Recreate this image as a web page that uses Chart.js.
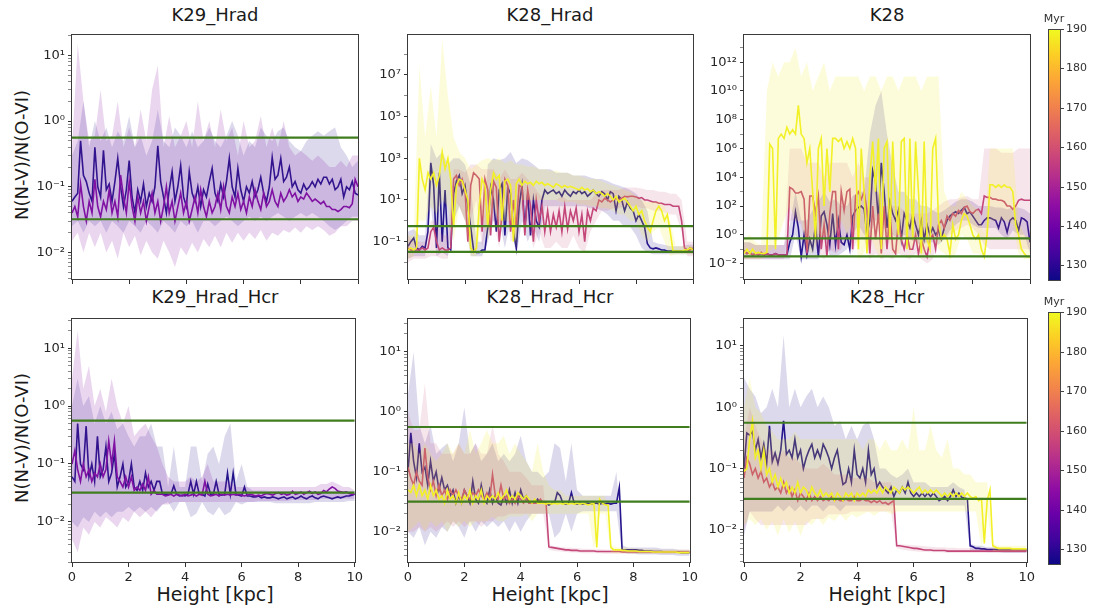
<!DOCTYPE html>
<html>
<head>
<meta charset="utf-8">
<script src="https://cdn.jsdelivr.net/npm/chart.js@4.4.0/dist/chart.umd.min.js"></script>
<style>
  body { margin: 0; background: #fff; width: 1094px; height: 614px; position: relative; overflow: hidden;
         font-family: "DejaVu Sans", sans-serif; color: #1a1a1a; }
  canvas { position: absolute; }
  .title { position: absolute; font-size: 18px; line-height: 22px; transform: translateX(-50%); white-space: nowrap; }
  .xlabel { position: absolute; font-size: 19px; line-height: 23px; transform: translateX(-50%); white-space: nowrap; }
  .ylabel { position: absolute; font-size: 18px; white-space: nowrap; transform: translate(-50%, -50%) rotate(-90deg); }
  .cbar { position: absolute; left: 1048px; width: 13px; border: 1px solid #444; box-sizing: border-box;
          background: linear-gradient(to top, #0d0887 0%, #41049d 10%, #6a00a8 20%, #8f0da4 30%, #b12a90 40%,
                      #cc4778 50%, #e16462 60%, #f2844b 70%, #fca636 80%, #fcce25 90%, #f0f921 100%); }
  .ctick { position: absolute; left: 1061px; width: 3px; height: 1px; background: #444; }
  .clabel { position: absolute; left: 1066px; font-size: 11px; line-height: 12px; color: #333; }
  .cunit { position: absolute; font-size: 11px; color: #333; transform: translateX(-50%); }
</style>
</head>
<body>

<div class="title" style="left:215px;top:4px">K29_Hrad</div>
<div class="title" style="left:550px;top:4px">K28_Hrad</div>
<div class="title" style="left:887px;top:4px">K28</div>
<div class="title" style="left:215px;top:286px">K29_Hrad_Hcr</div>
<div class="title" style="left:550px;top:286px">K28_Hrad_Hcr</div>
<div class="title" style="left:887px;top:286px">K28_Hcr</div>

<div class="ylabel" style="left:21px;top:155px">N(N-V)/N(O-VI)</div>
<div class="ylabel" style="left:21px;top:438px">N(N-V)/N(O-VI)</div>

<div class="xlabel" style="left:215px;top:583px">Height [kpc]</div>
<div class="xlabel" style="left:550px;top:583px">Height [kpc]</div>
<div class="xlabel" style="left:887px;top:583px">Height [kpc]</div>

<canvas id="c1"></canvas>
<canvas id="c2"></canvas>
<canvas id="c3"></canvas>
<canvas id="c4"></canvas>
<canvas id="c5"></canvas>
<canvas id="c6"></canvas>

<script>
// sampling heights [kpc]: fine grid for median lines, coarse grid for the spread bands
const heights = [
  0,0.1,0.2,0.3,0.4,0.5,0.6,0.7,0.8,0.9,
  1,1.1,1.2,1.3,1.4,1.5,1.6,1.7,1.8,1.9,
  2,2.1,2.2,2.3,2.4,2.5,2.6,2.7,2.8,2.9,
  3,3.1,3.2,3.3,3.4,3.5,3.6,3.7,3.8,3.9,
  4,4.1,4.2,4.3,4.4,4.5,4.6,4.7,4.8,4.9,
  5,5.1,5.2,5.3,5.4,5.5,5.6,5.7,5.8,5.9,
  6,6.1,6.2,6.3,6.4,6.5,6.6,6.7,6.8,6.9,
  7,7.1,7.2,7.3,7.4,7.5,7.6,7.7,7.8,7.9,
  8,8.1,8.2,8.3,8.4,8.5,8.6,8.7,8.8,8.9,
  9,9.1,9.2,9.3,9.4,9.5,9.6,9.7,9.8,9.9,
  10];
const heightsCoarse = [
  0,0.2,0.4,0.6,0.8,1,1.2,1.4,1.6,1.8,
  2,2.2,2.4,2.6,2.8,3,3.2,3.4,3.6,3.8,
  4,4.2,4.4,4.6,4.8,5,5.2,5.4,5.6,5.8,
  6,6.2,6.4,6.6,6.8,7,7.2,7.4,7.6,7.8,
  8,8.2,8.4,8.6,8.8,9,9.2,9.4,9.6,9.8,
  10];

// observed ratio limits (green lines)
const upperRatio = 0.56;
const lowerRatio = 0.032;

// snapshot times [Myr] and colour bar
const timeBlue = 130, timePurple = 145, timePink = 160, timeYellow = 190;
const cbarTicks = [130, 140, 150, 160, 170, 180, 190];
const cbarMin = 126, cbarMax = 190;

// ---- K29_Hrad ----
const k29HradBlue = [
  0.06,0.07,0.08,0.5,0.15,0.12,0.08,0.06,0.4,0.1,
  0.07,0.36,0.09,0.11,0.06,0.12,0.27,0.1,0.05,0.09,
  0.25,0.07,0.04,0.09,0.06,0.11,0.05,0.08,0.06,0.1,
  0.42,0.12,0.07,0.04,0.09,0.17,0.06,0.1,0.21,0.07,
  0.05,0.17,0.08,0.06,0.1,0.05,0.09,0.07,0.12,0.19,
  0.08,0.06,0.11,0.07,0.12,0.27,0.1,0.07,0.19,0.09,
  0.06,0.1,0.08,0.12,0.07,0.09,0.14,0.08,0.06,0.1,
  0.28,0.13,0.15,0.27,0.12,0.14,0.2,0.1,0.12,0.09,
  0.08,0.11,0.09,0.1,0.12,0.1,0.13,0.11,0.14,0.14,
  0.11,0.13,0.09,0.1,0.13,0.07,0.1,0.09,0.12,0.08,
  0.075];
const k29HradPurple = [
  0.04,0.05,0.035,0.11,0.05,0.03,0.06,0.04,0.13,0.05,
  0.035,0.06,0.045,0.09,0.04,0.06,0.035,0.15,0.07,0.04,
  0.12,0.05,0.03,0.07,0.04,0.06,0.03,0.05,0.08,0.04,
  0.06,0.03,0.05,0.1,0.04,0.06,0.03,0.05,0.08,0.04,
  0.06,0.03,0.045,0.07,0.04,0.09,0.05,0.035,0.06,0.04,
  0.05,0.08,0.045,0.1,0.05,0.04,0.07,0.05,0.08,0.045,
  0.06,0.04,0.07,0.05,0.09,0.06,0.045,0.08,0.05,0.06,
  0.09,0.06,0.05,0.08,0.06,0.07,0.09,0.07,0.08,0.06,
  0.07,0.065,0.08,0.07,0.06,0.065,0.06,0.055,0.06,0.05,
  0.05,0.045,0.045,0.042,0.045,0.05,0.05,0.048,0.055,0.13,
  0.1];
const k29HradBlueHi = [0.3,0.5,2,0.4,1,0.5,0.8,0.4,0.7,0.5, 1.2,0.4,0.6,0.3,0.5,1.5,0.5,0.4,0.8,0.6,
  0.4,0.7,0.4,0.5,0.8,0.5,0.4,0.6,1,0.6, 0.3,0.5,0.4,0.8,0.6,0.5,0.7,0.8,0.5,0.4,
  0.35,0.5,0.6,0.7,0.6,0.7,0.8,0.4,0.3,0.2, 0.25];
const k29HradBlueLo = [0.025,0.03,0.02,0.03,0.025,0.03,0.02,0.03,0.025,0.02, 0.03,0.025,0.02,0.03,0.025,0.02,0.03,0.025,0.02,0.03,
  0.025,0.03,0.02,0.03,0.03,0.025,0.03,0.035,0.03,0.025, 0.03,0.035,0.03,0.035,0.03,0.035,0.04,0.035,0.03,0.035,
  0.04,0.035,0.04,0.035,0.03,0.025,0.022,0.025,0.03,0.035, 0.035];
const k29HradPurpleHi = [0.4,15,2,0.5,0.6,3,0.5,0.6,2,0.4, 0.8,0.4,1.5,0.5,3,7,0.4,1.2,0.4,0.6,
  1,0.4,2,0.5,1,0.4,1.5,0.5,0.8,0.3, 1,0.4,0.5,1.2,0.4,0.8,0.4,1,0.4,0.3,
  0.35,0.3,0.25,0.3,0.25,0.2,0.2,0.25,0.2,0.3, 0.3];
const k29HradPurpleLo = [0.015,0.02,0.01,0.02,0.012,0.02,0.01,0.015,0.008,0.02, 0.012,0.018,0.009,0.015,0.01,0.008,0.015,0.01,0.006,0.012,
  0.009,0.014,0.01,0.016,0.012,0.018,0.012,0.02,0.014,0.02, 0.015,0.02,0.016,0.022,0.015,0.02,0.018,0.022,0.02,0.024,
  0.02,0.025,0.022,0.025,0.022,0.018,0.02,0.025,0.025,0.03, 0.03];

// ---- K28_Hrad ----
const k28HradBlue = [
  0.06,0.1,0.15,0.05,0.04,0.06,0.05,0.3,600,50,
  0.05,200,0.1,30,0.05,0.04,20,80,150,20,
  50,5,0.5,0.04,0.03,0.03,0.04,0.04,0.5,40,
  10,0.3,30,60,0.2,40,20,0.3,0.05,5,
  50,0.5,20,0.2,10,1,0.5,10,30,20,
  25,30,20,25,15,30,20,15,25,20,
  30,20,25,15,20,30,20,15,25,20,
  10,25,20,3,15,10,3,8,4,3,
  1,2,1,0.5,0.08,0.05,0.045,0.05,0.045,0.04,
  0.04,0.035,0.035,0.035,0.035,0.035,0.035,0.035,0.035,0.05,
  0.04];
const k28HradPink = [
  0.05,0.04,0.04,0.04,0.04,0.05,0.04,0.05,0.3,0.5,
  0.1,0.04,0.05,0.04,0.04,0.05,100,150,50,100,
  30,0.1,50,200,150,100,0.3,100,30,0.2,
  80,40,0.1,2,100,50,0.3,10,0.5,50,
  40,0.2,30,5,0.1,10,1,5,0.3,3,
  0.3,2,0.5,3,0.3,5,0.4,3,1,4,
  0.3,2,0.1,3,1,4,3,10,8,12,
  10,8,10,12,10,12,15,14,15,15,
  14,12,13,10,10,9,8,8,7,7,
  6,6,6,5,5,5,1,0.05,0.04,0.04,
  0.05];
const k28HradYellow = [
  0.04,0.05,0.04,0.05,1000,100,30,200,100,200,
  50,150,2000,300,1000,100,0.5,50,100,80,
  30,10,0.05,0.03,0.05,5,100,50,0.5,30,
  200,100,150,1,80,100,50,0.1,60,100,
  50,80,60,70,50,80,60,70,50,60,
  50,40,60,50,40,50,40,45,40,35,
  30,40,30,35,25,30,20,25,20,15,
  20,15,10,15,8,10,12,8,5,3,
  5,2,3,1,0.5,0.3,1,3,5,3,
  1,2,0.3,0.035,0.035,0.035,0.035,0.04,0.04,0.05,
  0.04];
const k28HradBlueHi = [0.3,0.4,0.2,0.2,5000,1000,2000,500,1000,1000, 500,50,0.1,0.1,500,1000,800,1000,2000,600,
  1000,800,500,300,300,300,200,200,200,150, 150,150,120,100,100,80,60,50,40,30,
  20,10,3,0.1,0.08,0.07,0.06,0.06,0.06,0.07, 0.07];
const k28HradBlueLo = [0.015,0.02,0.02,0.02,5,0.02,0.03,0.02,1,5, 1,0.02,0.02,0.02,0.1,1,1,0.05,1,0.02,
  1,0.1,0.5,0.1,5,5,5,5,5,5, 5,5,4,4,3,2,1,1,0.5,0.5,
  0.2,0.05,0.03,0.025,0.025,0.025,0.025,0.025,0.025,0.025, 0.025];
const k28HradPinkHi = [0.2,0.1,0.1,0.1,1,1,0.2,0.2,300,300, 200,500,500,300,300,300,100,300,100,100,
  200,100,50,20,10,10,10,15,10,10, 10,10,10,20,30,30,30,30,40,40,
  40,35,30,30,25,25,20,20,10,0.1, 0.1];
const k28HradPinkLo = [0.01,0.015,0.015,0.015,0.02,0.02,0.015,0.015,10,5, 1,1,10,0.05,1,1,0.05,10,0.1,0.2,
  5,1,0.05,0.3,0.05,0.05,0.1,0.05,0.05,0.2, 0.05,0.03,0.3,1,3,3,4,4,5,5,
  5,4,4,3,3,2.5,2,2,0.3,0.02, 0.02];
const k28HradYellowHi = [0.2,0.2,3e7,1e4,3e6,1e4,5e8,1e6,1e4,2000, 1000,300,500,800,1000,800,1000,600,800,500,
  500,400,400,300,300,250,250,200,200,150, 150,120,100,100,80,60,50,40,30,25,
  15,10,8,8,8,5,1,0.06,0.06,0.06, 0.06];
const k28HradYellowLo = [0.015,0.02,1,1,5,2,10,5,0.1,5, 1,0.02,0.02,2,0.1,5,0.5,1,1,0.05,
  10,10,10,10,10,10,10,8,8,8, 6,6,5,5,4,4,3,2,2,1,
  1,0.2,0.1,0.3,0.5,0.1,0.02,0.025,0.025,0.025, 0.025];

// ---- K28 ----
const k28Blue = [
  0.08,0.05,0.06,0.04,0.05,0.04,0.05,0.04,0.05,0.04,
  0.04,0.05,0.04,0.04,0.04,0.04,0.3,1,40,3,
  0.03,1,0.04,0.5,0.1,5,0.03,20,40,5,
  0.2,30,0.2,10,0.3,0.2,1,0.1,20,50,
  80,100,60,1,10,3e4,5000,10,1e5,1000,
  3,200,30,10,50,0.5,30,10,3,30,
  5,1,10,0.5,5,1,3,1,2,0.5,
  3,10,20,30,40,30,50,80,30,40,
  20,10,5,5,10,15,15,12,10,3,
  15,8,1.5,10,15,10,2,15,12,8,
  0.3];
const k28Pink = [
  0.08,0.05,0.06,0.04,0.05,0.04,0.06,0.04,0.05,0.04,
  0.04,0.05,0.04,0.04,0.04,0.04,2000,1500,800,800,
  1000,300,0.05,500,500,30,500,0.1,5,0.03,
  30,1000,1000,0.1,1000,50,1000,1500,0.1,500,
  1000,300,1000,50,0.05,100,0.5,30,0.05,100,
  0.1,50,0.1,0.05,10,0.5,0.1,1,0.1,0.1,
  1,0.05,0.5,0.1,0.03,0.5,1,0.1,5,10,
  3,20,10,30,20,50,30,80,100,40,
  30,50,60,30,500,400,400,300,300,250,
  250,200,100,100,60,100,250,300,250,250,
  250];
const k28Yellow = [
  0.05,0.1,0.05,0.1,0.05,0.06,0.05,0.05,0.06,2e6,
  1e6,0.1,5e6,1e7,5e6,3e7,1e7,2e7,1e7,1e9,
  1e7,5e6,1e5,1e6,1000,0.5,1e6,5e6,100,1e6,
  1000,5e6,5e6,3e6,5e6,1e6,3e6,1e6,5e6,1e6,
  0.1,1e6,1000,0.05,1e4,3e6,1000,5e6,0.1,1e6,
  3e6,0.5,3e6,100,1,3e6,5e6,0.1,5e6,0.5,
  3e6,1000,0.05,3e6,0.5,0.1,1e6,5e6,10,0.5,
  1,0.5,0.05,5,0.5,1,10,30,20,5,
  1,0.5,1,0.1,0.03,1,3000,3000,2000,3000,
  2000,3000,2000,2000,1000,5,1,0.1,0.05,0.03,
  0.03];
const k28BlueHi = [0.3,0.3,0.2,0.2,0.2,0.2,0.2,0.2,5,1000, 10,10,50,200,1000,200,300,100,100,500,
  1000,1000,1e7,1e9,1e10,1e7,5e4,1000,1000,300, 300,100,100,50,30,50,100,200,300,300,
  200,100,100,100,80,80,60,80,80,60, 30];
const k28BlueLo = [0.02,0.02,0.02,0.02,0.02,0.02,0.02,0.02,0.02,1, 0.02,0.02,0.02,0.02,1,0.03,0.03,0.05,0.1,1,
  5,1,1,10,10,1,1,0.5,1,0.5, 0.3,0.2,0.3,0.3,0.2,0.5,2,5,10,10,
  5,3,3,3,3,1,0.5,2,1,1, 0.05];
const k28PinkHi = [0.3,0.3,0.2,0.2,0.2,0.2,0.2,0.2,1e6,1e6, 1e6,1e5,1e5,1e5,1e4,1e5,1e5,1e5,1e5,1e4,
  1e5,1e4,1e4,1000,1000,100,100,100,50,30, 30,30,30,50,100,200,300,300,400,500,
  300,300,1e6,1e6,1e6,5e5,5e5,5e5,1e6,1e6, 1e6];
const k28PinkLo = [0.02,0.02,0.02,0.02,0.02,0.02,0.02,0.02,10,10, 5,0.02,1,0.05,0.02,0.1,0.05,0.1,1,0.05,
  1,0.5,0.02,0.05,0.02,0.03,0.02,0.05,0.03,0.02, 0.05,0.02,0.01,0.02,0.5,0.5,1,2,3,5,
  3,1,0.2,0.1,0.1,0.1,0.1,0.1,0.1,0.1, 0.1];
const k28YellowHi = [0.5,1,0.3,0.2,1e10,1e12,1e11,1e12,1e12,1e13, 1e11,1e12,1e10,1e11,1e12,1e10,1e11,1e11,1e11,1e11,
  1e11,1e10,1e11,1e11,1e10,1e11,1e11,1e10,1e11,1e11, 1e11,1e10,1e11,1e11,1e11,1000,100,100,1000,300,
  100,50,1,1e6,1e6,1e6,1e6,1e6,10,1, 0.5];
const k28YellowLo = [0.02,0.02,0.02,0.02,0.05,0.1,0.5,10,100,10, 10,0.1,0.05,0.5,1,0.5,1,10,1,10,
  0.02,0.05,1,0.1,0.02,1,0.05,0.05,1,0.05, 0.5,0.02,0.1,1,0.1,0.05,0.02,0.05,1,0.5,
  0.05,0.05,0.02,10,10,10,10,5,0.05,0.02, 0.02];

// ---- K29_Hrad_Hcr ----
const k29HcrBlue = [
  0.06,0.05,0.5,0.1,0.08,0.45,0.06,0.1,0.05,0.3,
  0.06,0.08,0.2,0.05,0.07,0.15,0.04,0.06,0.1,0.04,
  0.05,0.1,0.04,0.035,0.05,0.035,0.07,0.04,0.05,0.035,
  0.05,0.05,0.03,0.03,0.03,0.03,0.042,0.03,0.028,0.029,
  0.028,0.03,0.05,0.03,0.05,0.03,0.03,0.028,0.045,0.03,
  0.03,0.05,0.03,0.029,0.03,0.07,0.03,0.07,0.03,0.029,
  0.028,0.04,0.028,0.028,0.027,0.027,0.028,0.026,0.027,0.026,
  0.026,0.027,0.026,0.025,0.026,0.027,0.025,0.026,0.027,0.025,
  0.026,0.028,0.026,0.025,0.027,0.028,0.026,0.025,0.027,0.028,
  0.027,0.026,0.025,0.026,0.027,0.026,0.027,0.028,0.028,0.029,
  0.03];
const k29HcrPurple = [
  0.1,0.17,0.08,0.05,0.1,0.06,0.08,0.05,0.07,0.06,
  0.1,0.06,0.08,0.25,0.1,0.25,0.06,0.05,0.04,0.06,
  0.04,0.06,0.035,0.04,0.035,0.045,0.035,0.06,0.03,0.035,
  0.03,0.03,0.03,0.028,0.029,0.03,0.028,0.03,0.029,0.028,
  0.03,0.028,0.029,0.03,0.028,0.03,0.029,0.05,0.03,0.028,
  0.029,0.03,0.028,0.03,0.029,0.03,0.029,0.03,0.029,0.03,
  0.029,0.028,0.029,0.03,0.029,0.028,0.029,0.028,0.03,0.031,
  0.03,0.029,0.031,0.032,0.03,0.031,0.029,0.03,0.034,0.03,
  0.031,0.033,0.03,0.032,0.034,0.031,0.033,0.03,0.031,0.035,
  0.033,0.037,0.04,0.038,0.034,0.033,0.032,0.033,0.031,0.03,
  0.03];
const k29HcrBlueHi = [1,3,1,1.5,0.5,1,0.5,0.8,0.4,0.5, 0.3,0.2,0.3,0.3,0.5,0.2,0.2,0.04,0.2,0.04,
  0.04,0.2,0.2,0.05,0.15,0.2,0.1,0.3,0.5,0.05, 0.1,0.04,0.035,0.035,0.035,0.034,0.034,0.034,0.034,0.034,
  0.034,0.034,0.034,0.034,0.034,0.034,0.034,0.034,0.034,0.034, 0.034];
const k29HcrBlueLo = [0.01,0.008,0.012,0.01,0.015,0.012,0.015,0.012,0.015,0.015, 0.018,0.015,0.018,0.015,0.018,0.015,0.02,0.022,0.015,0.022,
  0.022,0.012,0.014,0.022,0.015,0.013,0.018,0.013,0.015,0.022, 0.02,0.022,0.022,0.022,0.022,0.022,0.021,0.021,0.021,0.021,
  0.021,0.021,0.021,0.022,0.022,0.022,0.022,0.022,0.022,0.023, 0.023];
const k29HcrPurpleHi = [3,20,2,5,1,2,0.8,3,1,0.5, 1,0.3,0.4,0.5,0.3,0.2,0.1,0.06,0.05,0.05,
  0.05,0.06,0.05,0.06,0.1,0.05,0.05,0.05,0.05,0.04, 0.04,0.04,0.04,0.04,0.04,0.04,0.04,0.04,0.04,0.04,
  0.04,0.04,0.04,0.04,0.045,0.045,0.05,0.045,0.04,0.04, 0.035];
const k29HcrPurpleLo = [0.005,0.003,0.008,0.006,0.01,0.008,0.012,0.01,0.008,0.012, 0.01,0.015,0.012,0.015,0.012,0.016,0.02,0.02,0.022,0.022,
  0.022,0.022,0.022,0.022,0.022,0.022,0.022,0.022,0.022,0.022, 0.022,0.022,0.022,0.023,0.023,0.023,0.023,0.023,0.023,0.024,
  0.024,0.024,0.024,0.024,0.025,0.025,0.025,0.025,0.025,0.025, 0.025];

// ---- K28_Hrad_Hcr ----
const k28HradHcrBlue = [
  0.1,0.45,0.15,0.08,0.3,0.1,0.12,0.06,0.15,0.07,
  0.1,0.05,0.08,0.05,0.06,0.04,0.05,0.03,0.04,0.03,
  0.05,0.04,0.03,0.07,0.035,0.03,0.06,0.035,0.03,0.05,
  0.03,0.04,0.03,0.028,0.04,0.03,0.05,0.03,0.045,0.03,
  0.05,0.035,0.04,0.03,0.03,0.03,0.035,0.03,0.03,0.03,
  0.028,0.03,0.03,0.045,0.04,0.03,0.029,0.03,0.045,0.03,
  0.029,0.03,0.029,0.03,0.03,0.029,0.03,0.03,0.029,0.03,
  0.029,0.03,0.029,0.03,0.03,0.055,0.005,0.005,0.005,0.005,
  0.005,0.005,0.0049,0.0049,0.0048,0.0048,0.0048,0.0047,0.0047,0.0047,
  0.0047,0.0046,0.0046,0.0046,0.0046,0.0046,0.0046,0.0045,0.0045,0.0045,
  0.0045];
const k28HradHcrPink = [
  0.12,0.08,0.06,0.1,0.07,0.06,0.25,0.08,0.05,0.07,
  0.04,0.06,0.04,0.05,0.035,0.05,0.04,0.05,0.04,0.035,
  0.05,0.04,0.035,0.045,0.04,0.05,0.04,0.035,0.045,0.035,
  0.09,0.04,0.035,0.06,0.035,0.04,0.03,0.035,0.03,0.04,
  0.035,0.03,0.035,0.03,0.03,0.03,0.03,0.035,0.03,0.03,
  0.0056,0.0055,0.0054,0.0053,0.0052,0.0051,0.005,0.005,0.0049,0.0049,
  0.0049,0.0048,0.0048,0.0048,0.0048,0.0048,0.0048,0.0047,0.0047,0.0047,
  0.0047,0.0047,0.0047,0.0047,0.0047,0.0047,0.0046,0.0046,0.0046,0.0046,
  0.0046,0.0046,0.0046,0.0046,0.0046,0.0046,0.0046,0.0046,0.0046,0.0046,
  0.0046,0.0046,0.0046,0.0046,0.0046,0.0046,0.0046,0.0046,0.0046,0.0046,
  0.0046];
const k28HradHcrYellow = [
  0.05,0.045,0.06,0.04,0.06,0.04,0.05,0.035,0.06,0.04,
  0.05,0.035,0.04,0.03,0.05,0.035,0.04,0.03,0.045,0.03,
  0.04,0.035,0.05,0.03,0.04,0.035,0.05,0.03,0.04,0.035,
  0.04,0.035,0.045,0.035,0.04,0.05,0.035,0.04,0.035,0.045,
  0.04,0.035,0.04,0.035,0.03,0.035,0.03,0.03,0.03,0.029,
  0.03,0.029,0.03,0.029,0.03,0.029,0.03,0.029,0.03,0.029,
  0.03,0.029,0.03,0.029,0.028,0.029,0.03,0.0055,0.035,0.03,
  0.028,0.028,0.0055,0.005,0.005,0.005,0.0049,0.0049,0.0048,0.0048,
  0.0048,0.0048,0.0047,0.0047,0.0047,0.0047,0.0047,0.0046,0.0046,0.0046,
  0.0046,0.0046,0.0046,0.0046,0.0046,0.0046,0.0045,0.0045,0.0045,0.0045,
  0.0045];
const k28HradHcrBlueHi = [2,10,0.6,0.3,0.6,0.2,0.25,0.3,0.15,0.3, 1.2,0.2,0.3,0.15,0.2,0.3,0.15,0.2,0.15,0.2,
  0.4,0.15,0.1,0.1,0.08,0.1,0.3,0.25,0.07,0.3, 0.05,0.04,0.04,0.04,0.04,0.04,0.04,0.1,0.006,0.0055,
  0.0055,0.0055,0.0055,0.0055,0.0055,0.0052,0.0052,0.0052,0.005,0.005, 0.005];
const k28HradHcrBlueLo = [0.01,0.008,0.012,0.006,0.01,0.008,0.012,0.01,0.015,0.012, 0.008,0.015,0.01,0.015,0.012,0.015,0.012,0.015,0.01,0.015,
  0.01,0.015,0.02,0.02,0.02,0.02,0.008,0.01,0.02,0.01, 0.02,0.022,0.022,0.022,0.022,0.022,0.022,0.022,0.0045,0.0043,
  0.0043,0.0042,0.0042,0.0042,0.0042,0.0041,0.0041,0.0041,0.004,0.004, 0.004];
const k28HradHcrPinkHi = [1,0.5,0.5,3,0.3,0.3,0.2,0.2,0.2,0.3, 0.2,0.2,0.3,0.2,0.2,0.6,0.2,0.15,0.1,0.1,
  0.1,0.08,0.06,0.06,0.06,0.006,0.0058,0.0056,0.0055,0.0054, 0.0053,0.0052,0.0052,0.0051,0.0051,0.005,0.005,0.005,0.005,0.005,
  0.005,0.005,0.005,0.005,0.005,0.005,0.005,0.005,0.005,0.005, 0.005];
const k28HradHcrPinkLo = [0.01,0.01,0.012,0.01,0.012,0.01,0.012,0.015,0.012,0.015, 0.012,0.015,0.015,0.012,0.015,0.015,0.018,0.018,0.02,0.02,
  0.02,0.02,0.02,0.02,0.02,0.005,0.0048,0.0047,0.0046,0.0045, 0.0045,0.0044,0.0044,0.0044,0.0044,0.0043,0.0043,0.0043,0.0043,0.0043,
  0.0043,0.0043,0.0043,0.0043,0.0043,0.0043,0.0043,0.0043,0.0043,0.0043, 0.0043];
const k28HradHcrYellowHi = [0.3,0.3,0.2,0.3,0.2,0.15,0.2,0.3,0.2,0.3, 0.2,0.5,0.2,0.3,0.5,0.3,0.3,0.4,0.2,0.3,
  0.2,0.15,0.1,0.3,0.1,0.06,0.05,0.05,0.04,0.04, 0.04,0.04,0.04,0.04,0.04,0.04,0.006,0.0055,0.0055,0.0054,
  0.0053,0.0052,0.0052,0.0051,0.0051,0.005,0.005,0.005,0.005,0.005, 0.005];
const k28HradHcrYellowLo = [0.01,0.012,0.015,0.01,0.015,0.012,0.015,0.01,0.015,0.012, 0.015,0.012,0.015,0.015,0.015,0.018,0.015,0.015,0.018,0.018,
  0.018,0.02,0.015,0.02,0.02,0.02,0.02,0.02,0.02,0.02, 0.02,0.02,0.02,0.005,0.02,0.02,0.0045,0.0044,0.0044,0.0044,
  0.0043,0.0043,0.0043,0.0043,0.0043,0.0043,0.0043,0.0043,0.0043,0.0043, 0.0043];

// ---- K28_Hcr ----
const k28HcrBlue = [
  0.1,0.38,0.35,0.4,0.2,0.3,0.15,0.25,0.12,0.5,
  0.13,0.18,0.12,0.2,0.6,0.17,0.2,0.15,0.3,0.15,
  0.2,0.1,0.15,0.2,0.25,0.15,0.2,0.15,0.25,0.2,
  0.15,0.1,0.15,0.2,0.1,0.055,0.06,0.1,0.06,0.2,
  0.08,0.07,0.1,0.06,0.2,0.08,0.1,0.05,0.06,0.05,
  0.045,0.04,0.05,0.035,0.045,0.04,0.05,0.04,0.06,0.04,
  0.035,0.04,0.035,0.04,0.035,0.04,0.035,0.04,0.035,0.03,
  0.032,0.035,0.03,0.035,0.045,0.035,0.04,0.034,0.033,0.032,
  0.0055,0.0053,0.005,0.005,0.0049,0.0049,0.0048,0.0048,0.0048,0.0048,
  0.0047,0.0047,0.0047,0.0047,0.0047,0.0047,0.0047,0.0047,0.0047,0.0047,
  0.0047];
const k28HcrPink = [
  0.07,0.15,0.12,0.08,0.1,0.07,0.09,0.06,0.07,0.05,
  0.06,0.045,0.05,0.04,0.06,0.04,0.05,0.035,0.045,0.03,
  0.04,0.035,0.03,0.04,0.03,0.035,0.03,0.035,0.03,0.032,
  0.03,0.035,0.03,0.032,0.03,0.03,0.032,0.03,0.03,0.035,
  0.03,0.03,0.032,0.03,0.03,0.028,0.03,0.028,0.03,0.027,
  0.028,0.026,0.028,0.03,0.0055,0.0055,0.0054,0.0053,0.0052,0.0051,
  0.005,0.005,0.0049,0.0048,0.0047,0.0047,0.0047,0.0046,0.0046,0.0046,
  0.0046,0.0046,0.0045,0.0045,0.0045,0.0045,0.0045,0.0045,0.0045,0.0045,
  0.0045,0.0045,0.0045,0.0045,0.0045,0.0045,0.0045,0.0045,0.0045,0.0045,
  0.0045,0.0045,0.0045,0.0045,0.0045,0.0045,0.0045,0.0045,0.0045,0.0045,
  0.0045];
const k28HcrYellow = [
  0.09,0.1,0.3,0.6,0.15,0.2,0.1,0.2,0.08,0.1,
  0.06,0.08,0.05,0.07,0.05,0.06,0.04,0.05,0.04,0.06,
  0.04,0.05,0.045,0.035,0.05,0.04,0.035,0.045,0.035,0.04,
  0.035,0.04,0.03,0.04,0.035,0.03,0.04,0.035,0.04,0.03,
  0.04,0.035,0.04,0.035,0.045,0.04,0.045,0.04,0.05,0.04,
  0.05,0.045,0.04,0.05,0.045,0.04,0.05,0.045,0.05,0.045,
  0.04,0.045,0.05,0.04,0.045,0.04,0.045,0.04,0.045,0.04,
  0.035,0.04,0.035,0.04,0.035,0.04,0.035,0.04,0.035,0.04,
  0.035,0.033,0.035,0.03,0.032,0.006,0.03,0.045,0.0055,0.0052,
  0.005,0.005,0.005,0.005,0.005,0.0049,0.0049,0.0049,0.0049,0.0049,
  0.0049];
const k28HcrBlueHi = [3,2,1.5,0.8,1,2,1,15,1,2, 1,1.5,2,1,1.5,1,0.5,0.6,0.3,0.5,
  0.3,0.5,0.6,0.3,0.1,0.1,0.08,0.07,0.08,0.1, 0.06,0.06,0.06,0.05,0.05,0.05,0.05,0.06,0.05,0.045,
  0.006,0.0055,0.0055,0.0052,0.0052,0.005,0.005,0.005,0.005,0.005, 0.005];
const k28HcrBlueLo = [0.008,0.02,0.02,0.02,0.02,0.02,0.025,0.02,0.025,0.02, 0.025,0.02,0.025,0.025,0.02,0.025,0.025,0.02,0.025,0.025,
  0.025,0.025,0.025,0.025,0.025,0.025,0.025,0.025,0.025,0.025, 0.025,0.025,0.025,0.025,0.025,0.025,0.025,0.025,0.025,0.025,
  0.0045,0.0044,0.0044,0.0043,0.0043,0.0043,0.0042,0.0042,0.0042,0.0042, 0.0042];
const k28HcrPinkHi = [0.3,1,0.5,0.3,0.2,0.2,0.15,0.2,0.15,0.15, 0.12,0.1,0.1,0.1,0.12,0.1,0.08,0.08,0.08,0.07,
  0.07,0.07,0.07,0.06,0.06,0.06,0.06,0.006,0.0058,0.0057, 0.0056,0.0055,0.0054,0.0053,0.0052,0.0052,0.0051,0.0051,0.005,0.005,
  0.005,0.005,0.005,0.005,0.005,0.005,0.005,0.005,0.005,0.005, 0.005];
const k28HcrPinkLo = [0.01,0.02,0.015,0.012,0.012,0.012,0.012,0.012,0.012,0.012, 0.012,0.012,0.015,0.015,0.015,0.018,0.018,0.018,0.018,0.02,
  0.02,0.02,0.02,0.02,0.02,0.02,0.02,0.005,0.0048,0.0046, 0.0045,0.0044,0.0044,0.0043,0.0043,0.0043,0.0042,0.0042,0.0042,0.0042,
  0.0042,0.0042,0.0042,0.0042,0.0042,0.0042,0.0042,0.0042,0.0042,0.0042, 0.0042];
const k28HcrYellowHi = [1,3,1,0.8,0.5,0.4,0.3,0.3,0.3,0.4, 0.3,0.3,0.3,0.3,0.3,0.3,0.3,0.3,0.3,0.3,
  0.3,0.2,0.3,0.3,0.2,0.3,0.2,0.2,0.3,0.2, 1,0.2,0.2,0.5,0.2,0.15,0.3,0.1,0.1,0.08,
  0.08,0.06,0.06,0.06,0.006,0.0055,0.0055,0.0055,0.0055,0.0055, 0.0055];
const k28HcrYellowLo = [0.012,0.015,0.012,0.015,0.01,0.014,0.008,0.015,0.009,0.014, 0.008,0.014,0.012,0.016,0.012,0.016,0.014,0.018,0.014,0.018,
  0.016,0.018,0.02,0.017,0.02,0.02,0.018,0.02,0.02,0.02, 0.02,0.02,0.02,0.02,0.02,0.02,0.02,0.02,0.02,0.02,
  0.02,0.02,0.005,0.02,0.0045,0.0045,0.0045,0.0045,0.0045,0.0045, 0.0045];

// plasma colours for each snapshot and band opacity
const seriesColor = {};
seriesColor[timeBlue] = '#24158c';
seriesColor[timePurple] = '#8012a3';
seriesColor[timePink] = '#c4477a';
seriesColor[timeYellow] = '#f2f026';
const bandAlpha = {};
bandAlpha[timeBlue] = 0.16;
bandAlpha[timePurple] = 0.17;
bandAlpha[timePink] = 0.14;
bandAlpha[timeYellow] = 0.17;
const green = '#3f7d1e';

function rgba(hex, a) {
  const n = parseInt(hex.slice(1), 16);
  return `rgba(${n >> 16},${(n >> 8) & 255},${n & 255},${a})`;
}
function pts(xs, ys) {
  return ys.map((y, i) => ({ x: xs[i], y: y }));
}
function sup(e) {
  const map = { '-': '\u207b', '0': '\u2070', '1': '\u00b9', '2': '\u00b2', '3': '\u00b3', '4': '\u2074',
                '5': '\u2075', '6': '\u2076', '7': '\u2077', '8': '\u2078', '9': '\u2079' };
  return String(e).split('').map(c => map[c]).join('');
}

const panels = [
  { id: 'c1', rect: [72, 29, 286, 251], yMin: Math.pow(10, -2.42), yMax: Math.pow(10, 1.33), minor: true, labelStep: 1, xLabels: false,
    series: [
      { time: timeBlue, line: k29HradBlue, hi: k29HradBlueHi, lo: k29HradBlueLo },
      { time: timePurple, line: k29HradPurple, hi: k29HradPurpleHi, lo: k29HradPurpleLo }] },
  { id: 'c2', rect: [408, 29, 285, 251], yMin: Math.pow(10, -2.84), yMax: Math.pow(10, 8.97), minor: false, labelStep: 2, labelOdd: true, xLabels: false,
    series: [
      { time: timeBlue, line: k28HradBlue, hi: k28HradBlueHi, lo: k28HradBlueLo },
      { time: timePink, line: k28HradPink, hi: k28HradPinkHi, lo: k28HradPinkLo },
      { time: timeYellow, line: k28HradYellow, hi: k28HradYellowHi, lo: k28HradYellowLo }] },
  { id: 'c3', rect: [744, 29, 286, 251], yMin: Math.pow(10, -3.14), yMax: Math.pow(10, 13.97), minor: false, labelStep: 2, labelOdd: false, xLabels: false,
    series: [
      { time: timeBlue, line: k28Blue, hi: k28BlueHi, lo: k28BlueLo },
      { time: timePink, line: k28Pink, hi: k28PinkHi, lo: k28PinkLo },
      { time: timeYellow, line: k28Yellow, hi: k28YellowHi, lo: k28YellowLo }] },
  { id: 'c4', rect: [72, 313, 286, 250], yMin: Math.pow(10, -2.71), yMax: Math.pow(10, 1.525), minor: true, labelStep: 1, xLabels: true,
    series: [
      { time: timeBlue, line: k29HcrBlue, hi: k29HcrBlueHi, lo: k29HcrBlueLo },
      { time: timePurple, line: k29HcrPurple, hi: k29HcrPurpleHi, lo: k29HcrPurpleLo }] },
  { id: 'c5', rect: [408, 313, 285, 250], yMin: Math.pow(10, -2.52), yMax: Math.pow(10, 1.57), minor: true, labelStep: 1, xLabels: true,
    series: [
      { time: timeBlue, line: k28HradHcrBlue, hi: k28HradHcrBlueHi, lo: k28HradHcrBlueLo },
      { time: timePink, line: k28HradHcrPink, hi: k28HradHcrPinkHi, lo: k28HradHcrPinkLo },
      { time: timeYellow, line: k28HradHcrYellow, hi: k28HradHcrYellowHi, lo: k28HradHcrYellowLo }] },
  { id: 'c6', rect: [744, 313, 286, 250], yMin: Math.pow(10, -2.54), yMax: Math.pow(10, 1.46), minor: true, labelStep: 1, xLabels: true,
    series: [
      { time: timeBlue, line: k28HcrBlue, hi: k28HcrBlueHi, lo: k28HcrBlueLo },
      { time: timePink, line: k28HcrPink, hi: k28HcrPinkHi, lo: k28HcrPinkLo },
      { time: timeYellow, line: k28HcrYellow, hi: k28HcrYellowHi, lo: k28HcrYellowLo }] }
];

const AXIS_W = 62, AXIS_H = 34, PAD_T = 6, PAD_R = 8;

// box around the plotting area (all four spines)
const framePlugin = {
  id: 'frame',
  afterDraw(chart) {
    const a = chart.chartArea, ctx = chart.ctx;
    ctx.save();
    ctx.strokeStyle = '#3a3a3a';
    ctx.lineWidth = 1;
    ctx.strokeRect(Math.round(a.left) - 0.5, Math.round(a.top) + 0.5, Math.round(a.right - a.left) + 1, Math.round(a.bottom - a.top) - 1);
    ctx.restore();
  }
};

function logTicks(p) {
  return function (scale) {
    const out = [];
    const e0 = Math.floor(Math.log10(p.yMin)), e1 = Math.ceil(Math.log10(p.yMax));
    for (let e = e0; e <= e1; e++) {
      const d = Math.pow(10, e);
      const labelled = p.labelStep === 1 || (Math.abs(e) % 2 === 1) === p.labelOdd;
      if (d >= p.yMin && d <= p.yMax) out.push({ value: d, major: labelled, text: labelled ? '10' + sup(e) : '' });
      if (p.minor) {
        for (let k = 2; k < 10; k++) {
          const v = k * d;
          if (v >= p.yMin && v <= p.yMax) out.push({ value: v, major: false, text: '' });
        }
      }
    }
    out.sort((a, b) => a.value - b.value);
    scale.ticks = out;
  };
}

function makeChart(p) {
  const [L, T, W, H] = p.rect;
  const cv = document.getElementById(p.id);
  cv.width = W + AXIS_W + PAD_R;
  cv.height = H + PAD_T + AXIS_H;
  cv.style.left = (L - AXIS_W) + 'px';
  cv.style.top = (T - PAD_T) + 'px';

  const datasets = [];
  [upperRatio, lowerRatio].forEach(r => datasets.push({
    data: [{ x: 0, y: r }, { x: 10, y: r }], borderColor: green, borderWidth: 2.2, pointRadius: 0, fill: false
  }));
  // later snapshots drawn on top
  p.series.slice().reverse().forEach(s => {
    const col = seriesColor[s.time];
    datasets.push({ data: pts(heights, s.line), borderColor: col, borderWidth: 1.6, pointRadius: 0, fill: false });
    const loIndex = datasets.length + 1;
    datasets.push({ data: pts(heightsCoarse, s.hi), borderWidth: 0, borderColor: 'rgba(0,0,0,0)', pointRadius: 0,
                    fill: loIndex, backgroundColor: rgba(col, bandAlpha[s.time]) });
    datasets.push({ data: pts(heightsCoarse, s.lo), borderWidth: 0, borderColor: 'rgba(0,0,0,0)', pointRadius: 0, fill: false });
  });

  const tickFont = { family: 'DejaVu Sans', size: 13 };
  return new Chart(cv, {
    type: 'line',
    data: { datasets: datasets },
    plugins: [framePlugin],
    options: {
      responsive: false,
      animation: false,
      devicePixelRatio: 1,
      events: [],
      layout: { padding: { top: PAD_T, right: PAD_R, left: 0, bottom: 0 } },
      plugins: { legend: { display: false }, tooltip: { enabled: false } },
      scales: {
        x: {
          type: 'linear', min: 0, max: 10,
          border: { display: false },
          grid: { display: true, drawOnChartArea: false, drawTicks: true, tickLength: 4, tickColor: '#333', tickWidth: 1 },
          ticks: { stepSize: 2, padding: 3, color: '#262626', font: tickFont, maxRotation: 0,
                   callback: v => p.xLabels ? String(v) : '' },
          afterFit: sc => { sc.height = AXIS_H; }
        },
        y: {
          type: 'logarithmic', min: p.yMin, max: p.yMax,
          border: { display: false },
          grid: { display: true, drawOnChartArea: false, drawTicks: true, tickLength: 4, tickWidth: 1,
                  tickColor: c => (c.tick && c.tick.major) ? '#333' : '#8a8a8a' },
          afterBuildTicks: logTicks(p),
          ticks: { autoSkip: false, padding: 3, color: '#262626', font: tickFont,
                   callback: (v, i, ticks) => ticks[i].text },
          afterFit: sc => { sc.width = AXIS_W; }
        }
      }
    }
  });
}

panels.forEach(makeChart);

// colour bars for the snapshot time
function makeColorbar(top, height) {
  const bar = document.createElement('div');
  bar.className = 'cbar';
  bar.style.top = top + 'px';
  bar.style.height = height + 'px';
  document.body.appendChild(bar);
  cbarTicks.forEach(v => {
    const y = top + (cbarMax - v) / (cbarMax - cbarMin) * height;
    const t = document.createElement('div');
    t.className = 'ctick';
    t.style.top = Math.round(y) + 'px';
    document.body.appendChild(t);
    const l = document.createElement('div');
    l.className = 'clabel';
    l.style.top = Math.round(y - 6) + 'px';
    l.textContent = v;
    document.body.appendChild(l);
  });
  const u = document.createElement('div');
  u.className = 'cunit';
  u.style.left = '1054px';
  u.style.top = (top - 17) + 'px';
  u.textContent = 'Myr';
  document.body.appendChild(u);
}
makeColorbar(29, 252);
makeColorbar(312, 253);
</script>
</body>
</html>
